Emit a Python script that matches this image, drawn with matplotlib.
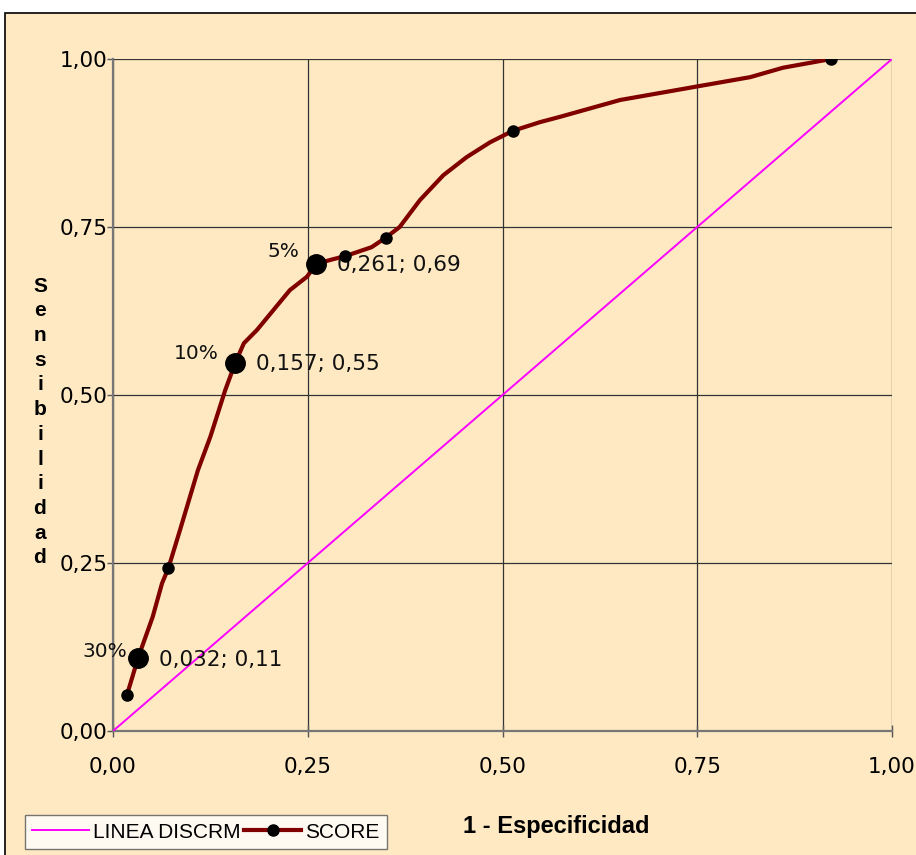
import numpy as np
import matplotlib
matplotlib.use("Agg")
from matplotlib import pyplot as plt
from matplotlib.patches import Rectangle

# SCORE curve (1 - especificidad, sensibilidad)
curve_x = [0.018, 0.032, 0.039, 0.051, 0.063, 0.071, 0.086, 0.109, 0.125, 0.144,
           0.157, 0.168, 0.185, 0.227, 0.249, 0.261, 0.279, 0.299, 0.332, 0.350,
           0.368, 0.394, 0.424, 0.454, 0.484, 0.513, 0.548, 0.574, 0.651, 0.754,
           0.818, 0.860, 0.922]
curve_y = [0.054, 0.108, 0.131, 0.170, 0.220, 0.242, 0.299, 0.388, 0.438, 0.507,
           0.548, 0.577, 0.597, 0.656, 0.676, 0.695, 0.701, 0.707, 0.720, 0.734,
           0.750, 0.790, 0.827, 0.854, 0.876, 0.893, 0.906, 0.914, 0.939, 0.960,
           0.973, 0.987, 1.000]

# plain markers on the curve
small_x = [0.018, 0.070, 0.298, 0.350, 0.513, 0.922]
small_y = [0.054, 0.242, 0.707, 0.734, 0.893, 1.000]

# cut points
cut_x = [0.032, 0.157, 0.261]
cut_y = [0.108, 0.548, 0.695]
cut_pct = ["30%", "10%", "5%"]
cut_lbl = ["0,032; 0,11", "0,157; 0,55", "0,261; 0,69"]

diag = [0.0, 1.0]
ticks = [0.0, 0.25, 0.5, 0.75, 1.0]
tick_lbl = ["0,00", "0,25", "0,50", "0,75", "1,00"]

bg = "#FEE9C3"
W, H = 916, 855

fig = plt.figure(figsize=(W / 100, H / 100), dpi=100, facecolor="white")
fig.patches.append(Rectangle((5 / W, -0.1), 1.2, 1 - 13 / H + 0.1,
                             transform=fig.transFigure, facecolor=bg,
                             edgecolor="black", linewidth=1.2, zorder=-5))

ax = fig.add_axes([113 / W, 1 - 731 / H, 779 / W, 672 / H])
ax.set_facecolor(bg)
ax.set_xlim(0, 1)
ax.set_ylim(0, 1)

ax.plot(diag, diag, color="#FF00FF", lw=1.4, zorder=3, label="LINEA DISCRM")
ax.plot(curve_x, curve_y, color="#800000", lw=3.0, zorder=4,
        solid_joinstyle="round", solid_capstyle="round")
ax.plot(small_x, small_y, "o", color="black", ms=8, zorder=5)
ax.plot(cut_x, cut_y, "o", color="black", ms=14, zorder=5)
# legend proxy
ax.plot([], [], color="#800000", lw=3.0, marker="o", mfc="black", mec="black",
        ms=8, label="SCORE")

pct_off = [(-8, 5), (-12, 7), (-12, 9)]
for x, y, p, l, o in zip(cut_x, cut_y, cut_pct, cut_lbl, pct_off):
    ax.annotate(p, (x, y), xytext=o, textcoords="offset points",
                ha="right", va="center", fontsize=14.5, color="#111111")
    ax.annotate(l, (x, y), xytext=(15, -1), textcoords="offset points",
                ha="left", va="center", fontsize=15.5, color="#111111")

ax.set_xticks(ticks)
ax.set_yticks(ticks)
ax.set_xticklabels(tick_lbl)
ax.set_yticklabels(tick_lbl)
ax.grid(True, color="#333333", lw=0.9)
ax.set_axisbelow(True)
ax.tick_params(axis="x", direction="inout", length=9, width=1.0, color="#555555",
               labelsize=15.5, pad=14)
ax.tick_params(axis="y", direction="out", length=4, width=1.0, color="#555555",
               labelsize=15.5, pad=0)
for s in ["top", "right"]:
    ax.spines[s].set_visible(False)
for s in ["left", "bottom"]:
    ax.spines[s].set_color("#777777")
    ax.spines[s].set_linewidth(1.6)

fig.text(556 / W, 1 - 826 / H, "1 - Especificidad", ha="center", va="center",
         fontsize=17, fontweight="bold", family="Liberation Sans")
fig.text(40 / W, 1 - 422 / H, "\n".join("Sensibilidad"), ha="center", va="center",
         fontsize=15, fontweight="bold", family="Liberation Sans", linespacing=1.38)

leg = fig.legend(loc="lower left", bbox_to_anchor=(25 / W, 1 - 849 / H), ncol=2,
                 frameon=True, fancybox=False,
                 prop={"family": "Liberation Sans", "size": 15},
                 handlelength=2.7, handletextpad=0.2, columnspacing=0.2,
                 borderpad=0.35, borderaxespad=0)
leg.get_frame().set_edgecolor("#555555")
leg.get_frame().set_facecolor("white")
leg.get_frame().set_linewidth(1.0)

fig.savefig("out.png", dpi=100, facecolor="white")
